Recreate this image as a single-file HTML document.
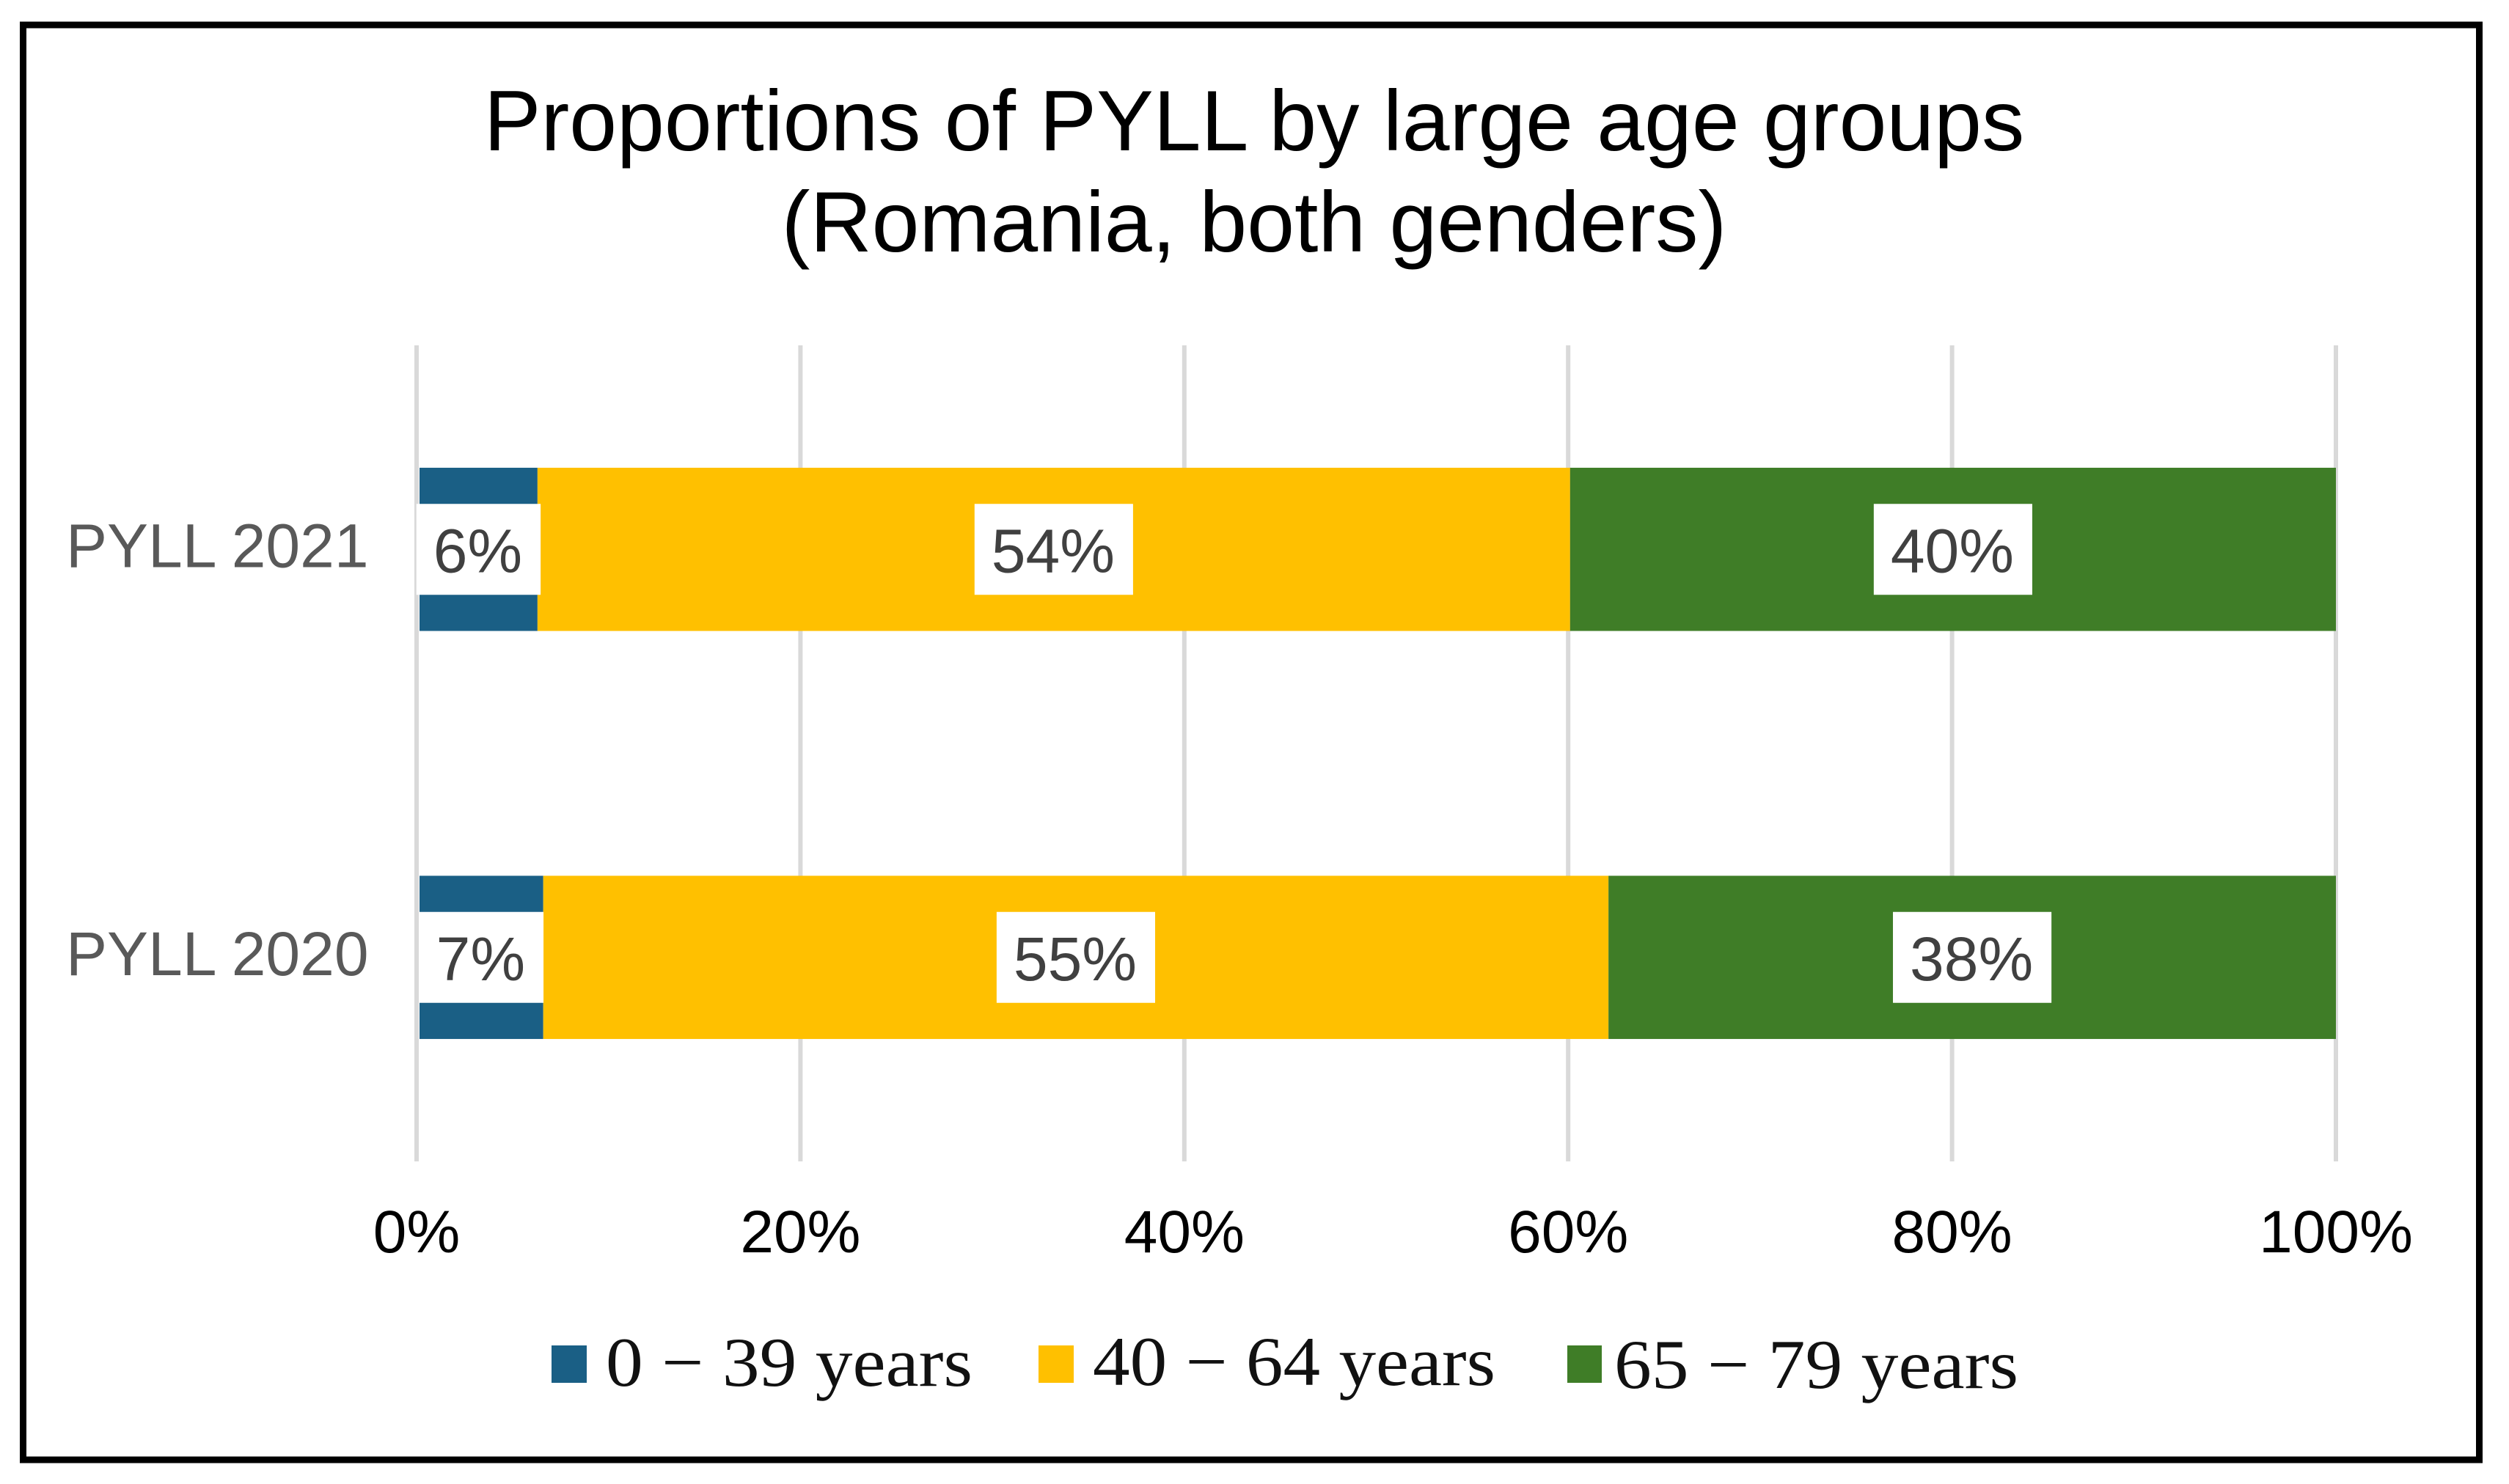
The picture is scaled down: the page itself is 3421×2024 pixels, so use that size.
<!DOCTYPE html>
<html lang="en">
<head>
<meta charset="utf-8">
<title>Proportions of PYLL by large age groups</title>
<style>
html,body{margin:0;padding:0;background:#fff;width:3421px;height:2024px;overflow:hidden}
svg{display:block;position:absolute;left:0;top:0}
text{font-family:"Liberation Sans",sans-serif}
.legend-text{font-family:"Liberation Serif",serif;font-size:95px;fill:#111}
.title{font-size:116.5px;fill:#000;text-anchor:middle}
</style>
</head>
<body>
<svg id="chart" xmlns="http://www.w3.org/2000/svg" width="3421" height="2024" viewBox="0 0 3421 2024">
  <rect x="31.5" y="34" width="3349" height="1957" fill="#fff" stroke="#000" stroke-width="9"/>
  <text class="title" x="1710" y="205">Proportions of PYLL by large age groups</text>
  <text class="title" x="1710" y="343">(Romania, both genders)</text>
  <g id="grid"></g>
  <g id="bars"></g>
  <g id="cats"></g>
  <g id="ticks"></g>
  <g>
    <g>
      <rect x="752" y="1835" width="48" height="51" fill="#1A5F85"/>
      <text class="legend-text" x="826" y="1890" textLength="500" lengthAdjust="spacingAndGlyphs">0 − 39 years</text>
    </g>
    <g>
      <rect x="1416" y="1835" width="48" height="51" fill="#FFC000"/>
      <text class="legend-text" x="1490" y="1889" textLength="549" lengthAdjust="spacingAndGlyphs">40 − 64 years</text>
    </g>
    <g>
      <rect x="2137" y="1835" width="47" height="51" fill="#3F7D27"/>
      <text class="legend-text" x="2201" y="1893" textLength="551" lengthAdjust="spacingAndGlyphs">65 − 79 years</text>
    </g>
  </g>
</svg>
<script>
var categories = ['PYLL 2021', 'PYLL 2020'];
var series0to39 = [6.3, 6.6];
var series40to64 = [53.8, 55.5];
var series65to79 = [39.9, 37.9];
var labels0to39 = ['6%', '7%'];
var labels40to64 = ['54%', '55%'];
var labels65to79 = ['40%', '38%'];
var xTicks = [0, 20, 40, 60, 80, 100];

var NS = 'http://www.w3.org/2000/svg';
var plotLeft = 568, plotRight = 3185, plotTop = 471, plotBottom = 1584;
var barFrac = 0.4, barInset = 4;
function xScale(v){ return plotLeft + (plotRight - plotLeft) * v / 100; }
function bandCenter(i){ return plotTop + (plotBottom - plotTop) * (i + 0.5) / categories.length; }
function make(tag, attrs, parent, txt){
  var el = document.createElementNS(NS, tag);
  for (var k in attrs) el.setAttribute(k, attrs[k]);
  if (txt !== undefined) el.textContent = txt;
  parent.appendChild(el);
  return el;
}
var gridG = document.getElementById('grid');
var barsG = document.getElementById('bars');
var catsG = document.getElementById('cats');
var ticksG = document.getElementById('ticks');

xTicks.forEach(function(t){
  var line = make('line', {x1:xScale(t), x2:xScale(t), y1:plotTop, y2:plotBottom, stroke:'#D9D9D9', 'stroke-width':6}, gridG);
  
  
  var lab = make('text', {x:xScale(t), y:1708, 'text-anchor':'middle', 'font-size':82, fill:'#000'}, ticksG, t + '%');
  
  
});

var seriesList = [
  {key:'0-39', values:series0to39, labels:labels0to39, color:'#1A5F85'},
  {key:'40-64', values:series40to64, labels:labels40to64, color:'#FFC000'},
  {key:'65-79', values:series65to79, labels:labels65to79, color:'#3F7D27'}
];
var barH = (plotBottom - plotTop) / categories.length * barFrac;

categories.forEach(function(cat, i){
  var cy = bandCenter(i);
  var catLab = make('text', {x:90, y:cy + 24, 'font-size':84, fill:'#595959'}, catsG, cat);
  
  
  var cum = 0;
  seriesList.forEach(function(s){
    var a = cum, b = cum + s.values[i];
    cum = b;
    var x0 = xScale(a) + (a === 0 ? barInset : 0);
    var x1 = xScale(b);
    var bar = make('rect', {x:x0, y:cy - barH / 2, width:x1 - x0, height:barH, fill:s.color}, barsG);
    
    
  });
  cum = 0;
  seriesList.forEach(function(s){
    var a = cum, b = cum + s.values[i];
    cum = b;
    var cx = (xScale(a) + (a === 0 ? barInset : 0) + xScale(b)) / 2;
    var box = make('rect', {y:cy - 62, height:124, fill:'#fff'}, barsG);
    
    
    var t = make('text', {x:cx - 1, y:cy + 31, 'text-anchor':'middle', 'font-size':84, fill:'#404040'}, barsG, s.labels[i]);
    
    
    var w = t.getComputedTextLength() + 48;
    box.setAttribute('x', cx - w / 2);
    box.setAttribute('width', w);
  });
});
</script>
</body>
</html>
